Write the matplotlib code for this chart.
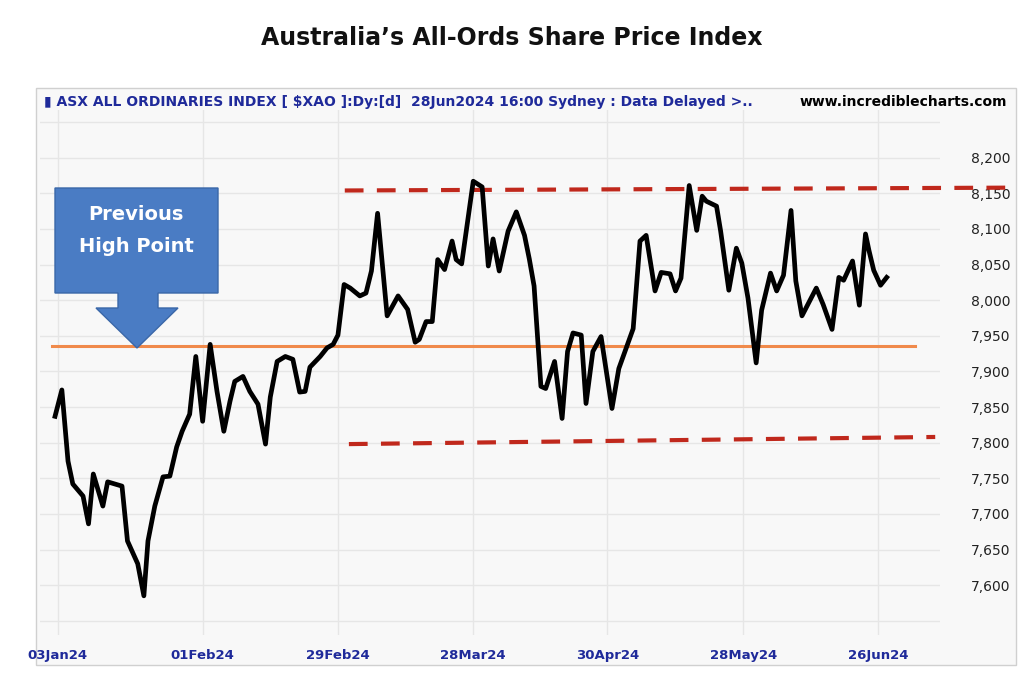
import matplotlib
matplotlib.use("Agg")
import matplotlib.pyplot as plt
from matplotlib.patches import Polygon, Rectangle
import numpy as np

# trading-day positions and index values
day = [-0.4,0.6,1.5,2.2,3.7,4.5,5.2,6.6,7.3,9.4,10.2,11.7,12.6,13.2,14.2,15.4,16.4,17.4,18.2,19.3,20.2,21.2,22.3,23.3,24.3,25.2,25.9,27.1,28.1,29.3,30.4,31.1,32.1,33.3,34.4,35.4,36.2,36.9,38.4,39.4,40.3,41.0,41.9,42.8,44.2,45.1,45.9,46.8,48.2,49.8,51.2,52.3,52.9,53.9,54.8,55.6,56.6,57.7,58.3,59.1,60.8,62.1,63.0,63.7,64.6,65.9,67.1,68.3,69.0,69.7,70.7,71.4,72.7,73.8,74.6,75.4,76.6,77.3,78.3,79.5,81.1,82.1,84.2,85.2,86.1,87.4,88.3,89.6,90.4,91.2,92.4,93.5,94.3,94.9,96.4,97.0,98.2,99.3,100.1,101.0,102.2,103.0,104.3,105.2,106.2,107.3,108.0,108.9,111.0,112.0,113.3,114.3,115.0,116.3,117.3,118.2,118.7,119.4,120.4,121.3]
value = [7837,7874,7774,7742,7725,7686,7756,7711,7745,7739,7662,7630,7585,7662,7711,7752,7753,7794,7816,7840,7921,7830,7938,7872,7816,7858,7886,7893,7872,7854,7798,7864,7914,7921,7917,7871,7872,7906,7921,7933,7938,7951,8022,8017,8006,8010,8041,8122,7978,8006,7987,7941,7945,7970,7970,8057,8043,8083,8057,8051,8167,8159,8048,8086,8041,8097,8124,8091,8058,8020,7879,7876,7914,7834,7928,7954,7951,7855,7928,7949,7848,7904,7960,8083,8091,8013,8039,8037,8013,8031,8161,8098,8146,8139,8132,8097,8014,8073,8052,8003,7912,7986,8038,8013,8035,8126,8027,7978,8017,7994,7959,8032,8028,8055,7993,8093,8070,8042,8021,8032]
tick_pos = [0,21.2,41.0,60.8,80.4,100.3,120.0]
tick_lab = ["03Jan24","01Feb24","29Feb24","28Mar24","30Apr24","28May24","26Jun24"]
yticks = [7600,7650,7700,7750,7800,7850,7900,7950,8000,8050,8100,8150,8200]
prev_high = 7936
upper = [8154,8158]
lower = [7798,7808]

W,H = 1024,674
fig = plt.figure(figsize=(W/100,H/100), dpi=100)
fig.patch.set_facecolor("white")
def fx(px): return px/W
def fy(py): return 1-py/H

# outer chart frame
fig.patches.append(Rectangle((fx(36),fy(665)), fx(1016)-fx(36), fy(88)-fy(665),
    transform=fig.transFigure, facecolor="#f8f8f8", edgecolor="#d0d0d0", lw=1, zorder=-5))

ax = fig.add_axes([fx(40), fy(635), fx(940)-fx(40), fy(110)-fy(635)])
ax.set_zorder(1)
ax.set_facecolor("#f8f8f8")
ax.set_xlim(-2.6,129.1)
ax.set_ylim(7530,8267)
for t in np.arange(7550,8251,50):
    ax.axhline(t, color="#e6e6e6", lw=1, zorder=0)
for t in tick_pos:
    ax.axvline(t, color="#e6e6e6", lw=1, zorder=0)
for s in ax.spines.values():
    s.set_visible(False)
ax.yaxis.tick_right()
ax.set_yticks(yticks)
ax.set_yticklabels([f"{v:,}" for v in yticks], fontsize=10, color="#222222")
ax.tick_params(axis="y", length=0, pad=22)
ax.set_xticks(tick_pos)
ax.set_xticklabels(tick_lab, fontsize=9.5, color="#1f2a9a", fontweight="bold")
ax.tick_params(axis="x", length=0, pad=10)

ax.axhline(prev_high, xmin=0.013, xmax=0.972, color="#f08a4b", lw=2.2, zorder=2)
ax.plot([42.0,139.6], upper, color="#c0281c", lw=3, ls=(0,(4.5,3.2)), clip_on=False, zorder=2)
ax.plot([42.6,128.4], lower, color="#c0281c", lw=3, ls=(0,(4.5,3.2)), clip_on=False, zorder=2)
ax.plot(day, value, color="black", lw=3.4, zorder=3, solid_joinstyle="round")

# blue arrow callout
pts = [(55,188),(218,188),(218,293),(158,293),(158,308),(178,308),(137,348),
       (96,308),(118,308),(118,293),(55,293)]
fig.patches.append(Polygon([(fx(x),fy(y)) for x,y in pts], closed=True,
    transform=fig.transFigure, facecolor="#4a7cc4", edgecolor="#3a67a8", lw=1, zorder=5))
fig.text(fx(136), fy(214), "Previous", ha="center", va="center", color="white",
         fontsize=14, fontweight="bold", zorder=6)
fig.text(fx(136), fy(247), "High Point", ha="center", va="center", color="white",
         fontsize=14, fontweight="bold", zorder=6)

fig.text(0.5, fy(38), "Australia\u2019s All-Ords Share Price Index", ha="center", va="center",
         fontsize=17, fontweight="bold", color="#111111")
fig.text(fx(44), fy(102), "\u25AE ASX ALL ORDINARIES INDEX [ $XAO ]:Dy:[d]  28Jun2024 16:00 Sydney : Data Delayed >..",
         ha="left", va="center", fontsize=10, color="#1f2a9a", fontweight="bold")
fig.text(fx(1007), fy(102), "www.incrediblecharts.com", ha="right", va="center",
         fontsize=10, color="black", fontweight="bold")

fig.savefig("out.png", dpi=100)
